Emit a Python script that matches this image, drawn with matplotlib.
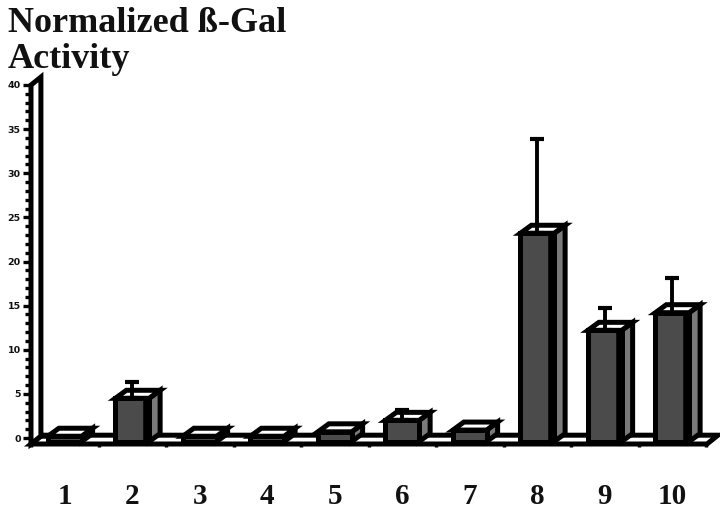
import matplotlib
matplotlib.use('Agg')
import matplotlib.pyplot as plt
from matplotlib.patches import Polygon
from matplotlib.ticker import MultipleLocator

categories = [1, 2, 3, 4, 5, 6, 7, 8, 9, 10]
values = [0.2, 4.5, 0.2, 0.2, 0.7, 2.0, 0.9, 23.2, 12.2, 14.2]
err_top = [None, 6.3, None, None, None, 3.2, None, 33.9, 14.7, 18.1]
y_ticks = [0, 5, 10, 15, 20, 25, 30, 35, 40]

W, H = 720, 519
fig = plt.figure(figsize=(W / 100, H / 100), dpi=100, facecolor='white')
L, R, T = 31, 707, 85
Y0 = 438
PX = 67.5
PY = 353 / 40
ymin = -(444 - Y0) / PY
ax = fig.add_axes([L / W, 1 - 444 / H, (R - L) / W, (444 - T) / H])
ax.set_xlim(0.5, 0.5 + (R - L) / PX)
ax.set_ylim(ymin, 40)

DX = 11 / PX
DY = 8 / PY
BW = 0.5
EDGE = 3.6
BASE = -0.4

def poly(pts, fc, z, lw=EDGE):
    ax.add_patch(Polygon(pts, closed=True, facecolor=fc, edgecolor='black',
                         linewidth=lw, joinstyle='miter', clip_on=False, zorder=z))

xa, xb = ax.get_xlim()
# floor and back wall
poly([(xa, ymin), (xb, ymin), (xb + DX, ymin + DY * 1.1), (xa + DX, ymin + DY * 1.1)], 'white', 1)
poly([(xa, ymin), (xa + DX * 0.9, ymin + DY), (xa + DX * 0.9, 40.9), (xa, 40)], 'white', 1.5)

# bars
for i, (c, v, e) in enumerate(zip(categories, values, err_top)):
    x0, x1 = c - BW / 2, c + BW / 2
    z = 3 + i * 0.01
    poly([(x1, BASE), (x1 + DX, BASE + DY), (x1 + DX, v + DY), (x1, v)], '#7a7a7a', z)
    poly([(x0, v), (x1, v), (x1 + DX, v + DY), (x0 + DX, v + DY)], 'white', z)
    poly([(x0, BASE), (x1, BASE), (x1, v), (x0, v)], '#4b4b4b', z)
    ax.plot([x1 - 0.045] * 2, [BASE, v], color='black', lw=4 if v > 3 else 0,
            solid_capstyle='butt', zorder=z + 0.001)
    if e is not None:
        ax.errorbar([c], [v], yerr=[[0], [e - v]], fmt='none', ecolor='black',
                    elinewidth=2.8, capsize=5, capthick=3, zorder=z + 0.002)

for s in ax.spines.values():
    s.set_visible(False)
ax.patch.set_visible(False)

ax.set_yticks(y_ticks)
ax.set_yticklabels([str(t) for t in y_ticks], fontfamily='DejaVu Sans',
                   fontweight='bold', fontsize=6.8, color='#111111')
ax.yaxis.set_minor_locator(MultipleLocator(1))
ax.tick_params(axis='y', which='major', length=6, width=2.4, pad=1.5)
ax.tick_params(axis='y', which='minor', length=4, width=2.4)

boundaries = [c - 0.5 for c in categories] + [categories[-1] + 0.5]
ax.set_xticks(boundaries)
ax.set_xticklabels([''] * len(boundaries))
ax.set_xticks(categories, minor=True)
ax.set_xticklabels([str(c) for c in categories], minor=True,
                   fontfamily='Liberation Serif', fontweight='bold', fontsize=21, color='#111111')
ax.tick_params(axis='x', which='major', length=2, width=2.5)
ax.tick_params(axis='x', which='minor', length=0, pad=28)

fig.text(8 / W, 1 - 32 / H, 'Normalized ß-Gal', fontfamily='Liberation Serif',
         fontweight='bold', fontsize=26, color='#111111', va='baseline', ha='left')
fig.text(8 / W, 1 - 68 / H, 'Activity', fontfamily='Liberation Serif',
         fontweight='bold', fontsize=26, color='#111111', va='baseline', ha='left')

fig.savefig('out.png', dpi=100, facecolor='white')
